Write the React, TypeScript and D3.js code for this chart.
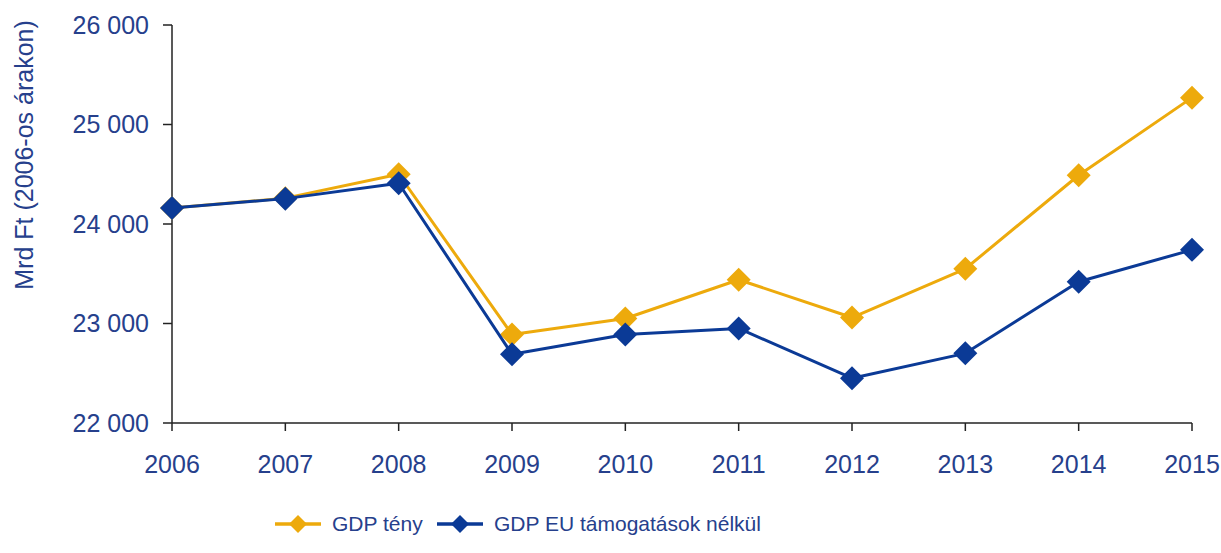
import React from "react";
import * as d3 from "d3";

const years = ["2006", "2007", "2008", "2009", "2010", "2011", "2012", "2013", "2014", "2015"];
const gdpTeny = [24160, 24260, 24500, 22890, 23050, 23440, 23060, 23550, 24490, 25270];
const gdpNoEu = [24160, 24255, 24410, 22690, 22890, 22950, 22450, 22700, 23420, 23740];
const yTicks = [22000, 23000, 24000, 25000, 26000];

const series = [
  { name: "GDP tény", values: gdpTeny, color: "#EDAA0C" },
  { name: "GDP EU támogatások nélkül", values: gdpNoEu, color: "#0B3A96" },
];

const W = 1221;
const H = 553;
const left = 172;
const right = 1192;
const top = 25;
const bottom = 423;
const textColor = "#26408C";
const font = "'Liberation Sans', Arial, sans-serif";

export default function App() {
  const x = d3.scalePoint<string>().domain(years).range([left, right]);
  const y = d3.scaleLinear().domain([22000, 26000]).range([bottom, top]);
  const line = d3
    .line<number>()
    .x((_, i) => x(years[i]) as number)
    .y((d) => y(d));
  const fmt = (v: number) => d3.format(",")(v).replace(",", " ");
  const diamond = (cx: number, cy: number, r: number) =>
    `M${cx},${cy - r}L${cx + r},${cy}L${cx},${cy + r}L${cx - r},${cy}Z`;

  const legendItems = [
    { x0: 275, tx: 332 },
    { x0: 437, tx: 494 },
  ];

  return (
    <svg width={W} height={H} style={{ position: "absolute", left: 0, top: 0, background: "#fff" }} fontFamily={font}>
      {/* axes */}
      <line x1={left} x2={left} y1={top} y2={bottom} stroke="#222" strokeWidth={1.5} />
      <line x1={left} x2={right} y1={bottom} y2={bottom} stroke="#222" strokeWidth={1.5} />
      {yTicks.map((t) => (
        <g key={t}>
          <line x1={left - 9} x2={left} y1={y(t)} y2={y(t)} stroke="#222" strokeWidth={1.5} />
          <text x={149} y={y(t)} dy="0.35em" textAnchor="end" fontSize={25} fill={textColor}>
            {fmt(t)}
          </text>
        </g>
      ))}
      {years.map((yr) => (
        <g key={yr}>
          <line x1={x(yr)} x2={x(yr)} y1={bottom} y2={bottom + 8} stroke="#222" strokeWidth={1.5} />
          <text x={x(yr)} y={473} textAnchor="middle" fontSize={25} fill={textColor}>
            {yr}
          </text>
        </g>
      ))}
      <text
        transform={`translate(33,155) rotate(-90)`}
        textAnchor="middle"
        fontSize={25}
        fill={textColor}
      >
        Mrd Ft (2006-os árakon)
      </text>
      {/* series */}
      {series.map((s) => (
        <g key={s.name}>
          <path d={line(s.values) || ""} fill="none" stroke={s.color} strokeWidth={3} strokeLinejoin="round" />
          {s.values.map((v, i) => (
            <path key={i} d={diamond(x(years[i]) as number, y(v), 12)} fill={s.color} />
          ))}
        </g>
      ))}
      {/* legend */}
      {series.map((s, i) => {
        const it = legendItems[i];
        return (
          <g key={s.name}>
            <line x1={it.x0} x2={it.x0 + 46} y1={524} y2={524} stroke={s.color} strokeWidth={3.5} />
            <path d={diamond(it.x0 + 23, 524, 9)} fill={s.color} />
            <text x={it.tx} y={524} dy="0.35em" fontSize={21} fill={textColor}>
              {s.name}
            </text>
          </g>
        );
      })}
    </svg>
  );
}
